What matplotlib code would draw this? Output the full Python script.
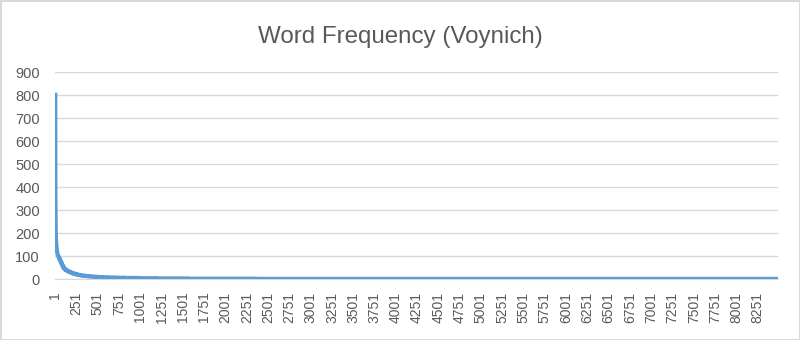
import numpy as np
import matplotlib
matplotlib.use("Agg")
import matplotlib.pyplot as plt

plt.rcParams['font.family'] = ['Liberation Sans', 'DejaVu Sans']

# most frequent words, counts (rank 1..40)
head_freq = [810, 400, 350, 300, 265, 235, 210, 192, 180, 170,
             164, 158, 153, 148, 144, 140, 136, 133, 130, 127,
             124, 121, 118, 116, 114, 112, 110, 108, 106, 105,
             104, 103, 102, 101, 100, 100, 99, 99, 98, 98]

# rest of the list as frequency -> number of words with that frequency
tail_freq = [95, 90, 85, 80, 75, 70, 65, 60, 55, 50,
             48, 45, 42, 40, 38, 36, 34, 32, 30, 28, 26, 24, 22, 20, 18, 16,
             15, 14, 13, 12, 11, 10, 9, 8, 7, 6, 5, 4, 3, 2, 1]
tail_words = [6, 6, 6, 6, 6, 6, 6, 6, 6, 6,
              6, 8, 8, 8, 8, 10, 10, 12, 14, 14, 16, 18, 18, 20, 26, 30,
              20, 22, 26, 30, 36, 44, 54, 66, 84, 110, 150, 220, 370, 800, 6132]

tick_labels = list(range(1, 8252, 250))

freq = np.concatenate([head_freq, np.repeat(tail_freq, tail_words)])
rank = np.arange(1, len(freq) + 1)

fig = plt.figure(figsize=(8, 3.4), dpi=100)
fig.patch.set_edgecolor('#D9D9D9')
fig.patch.set_linewidth(2)
ax = fig.add_axes([0.069, 0.179, 0.9035, 0.609])

ax.plot(rank, freq, color='#5B9BD5', lw=3, solid_joinstyle='round',
        solid_capstyle='butt')

ax.set_xlim(0.5, len(freq) + 0.5)
ax.set_ylim(0, 900)
ax.set_yticks(range(0, 901, 100))
ax.set_xticks(tick_labels)
ax.set_xticklabels([str(t) for t in tick_labels], rotation=90)
ax.yaxis.grid(True, color='#D9D9D9', lw=1)
ax.set_axisbelow(True)
for s in ['top', 'right', 'left']:
    ax.spines[s].set_visible(False)
ax.spines['bottom'].set_color('#D9D9D9')
ax.tick_params(axis='both', length=0, labelsize=10.5, colors='#595959')
ax.tick_params(axis='y', pad=11)
ax.tick_params(axis='x', pad=9, labelsize=10)

fig.text(0.5, 0.89, 'Word Frequency (Voynich)', ha='center', va='center',
         fontsize=17.4, color='#595959')

fig.savefig('out.png', dpi=100, edgecolor=fig.get_edgecolor())
